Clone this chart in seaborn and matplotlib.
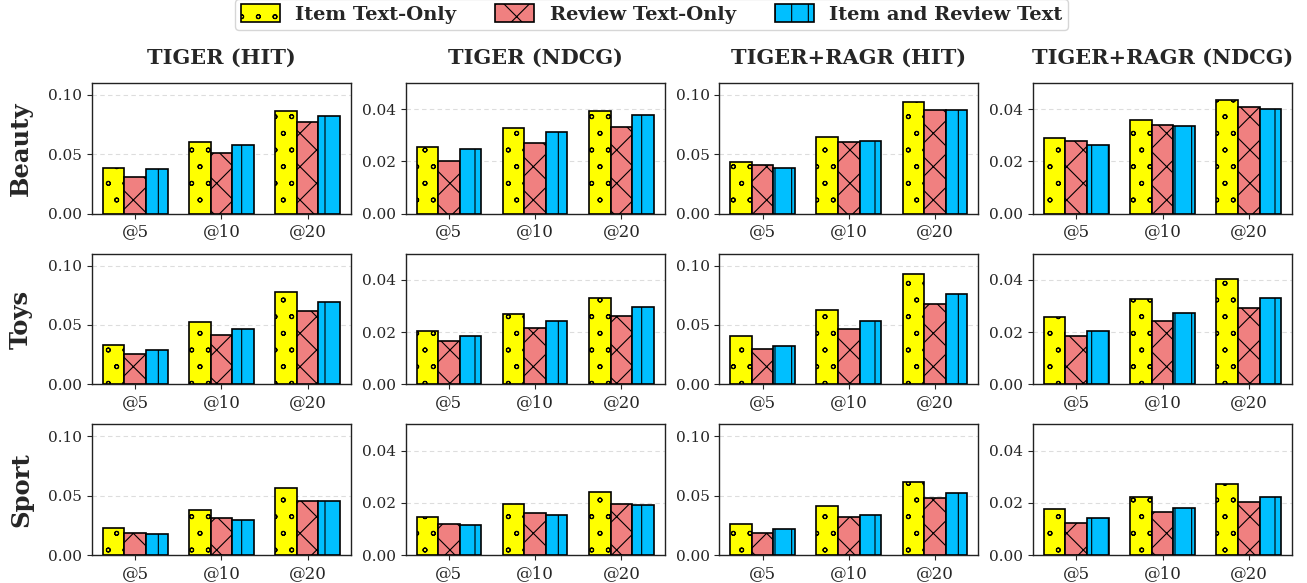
import matplotlib
matplotlib.use("Agg")
import matplotlib.pyplot as plt
import matplotlib.hatch as mhatch
from matplotlib.patches import Patch
import pandas as pd
import seaborn as sns

# Cutoffs on the x axis
cutoffs = ["@5", "@10", "@20"]

# Text-source settings compared in every panel
settings = ["Item Text-Only", "Review Text-Only", "Item and Review Text"]

# Panel columns (model + metric) and dataset rows
columns = ["TIGER (HIT)", "TIGER (NDCG)", "TIGER+RAGR (HIT)", "TIGER+RAGR (NDCG)"]
datasets = ["Beauty", "Toys", "Sport"]

# ---- Beauty ----
beauty_tiger_hit_item = [0.0382, 0.0604, 0.0868]
beauty_tiger_hit_review = [0.0309, 0.0514, 0.0770]
beauty_tiger_hit_both = [0.0374, 0.0581, 0.0823]

beauty_tiger_ndcg_item = [0.0254, 0.0326, 0.0392]
beauty_tiger_ndcg_review = [0.0203, 0.0269, 0.0332]
beauty_tiger_ndcg_both = [0.0249, 0.0314, 0.0377]

beauty_ragr_hit_item = [0.0433, 0.0646, 0.0941]
beauty_ragr_hit_review = [0.0407, 0.0601, 0.0876]
beauty_ragr_hit_both = [0.0388, 0.0610, 0.0876]

beauty_ragr_ndcg_item = [0.0291, 0.0360, 0.0435]
beauty_ragr_ndcg_review = [0.0276, 0.0340, 0.0408]
beauty_ragr_ndcg_both = [0.0262, 0.0335, 0.0401]

# ---- Toys ----
toys_tiger_hit_item = [0.0331, 0.0528, 0.0781]
toys_tiger_hit_review = [0.0258, 0.0419, 0.0615]
toys_tiger_hit_both = [0.0292, 0.0469, 0.0694]

toys_tiger_ndcg_item = [0.0206, 0.0269, 0.0331]
toys_tiger_ndcg_review = [0.0164, 0.0214, 0.0262]
toys_tiger_ndcg_both = [0.0185, 0.0241, 0.0297]

toys_ragr_hit_item = [0.0410, 0.0629, 0.0933]
toys_ragr_hit_review = [0.0295, 0.0469, 0.0674]
toys_ragr_hit_both = [0.0326, 0.0531, 0.0764]

toys_ragr_ndcg_item = [0.0259, 0.0327, 0.0404]
toys_ragr_ndcg_review = [0.0186, 0.0242, 0.0292]
toys_ragr_ndcg_both = [0.0205, 0.0273, 0.0329]

# ---- Sport ----
sport_tiger_hit_item = [0.0230, 0.0382, 0.0562]
sport_tiger_hit_review = [0.0188, 0.0315, 0.0455]
sport_tiger_hit_both = [0.0180, 0.0298, 0.0455]

sport_tiger_ndcg_item = [0.0146, 0.0196, 0.0241]
sport_tiger_ndcg_review = [0.0120, 0.0160, 0.0196]
sport_tiger_ndcg_both = [0.0115, 0.0153, 0.0192]

sport_ragr_hit_item = [0.0264, 0.0413, 0.0618]
sport_ragr_hit_review = [0.0188, 0.0317, 0.0478]
sport_ragr_hit_both = [0.0216, 0.0340, 0.0520]

sport_ragr_ndcg_item = [0.0175, 0.0223, 0.0273]
sport_ragr_ndcg_review = [0.0121, 0.0163, 0.0204]
sport_ragr_ndcg_both = [0.0140, 0.0180, 0.0224]

panels = [
    [
        (beauty_tiger_hit_item, beauty_tiger_hit_review, beauty_tiger_hit_both),
        (beauty_tiger_ndcg_item, beauty_tiger_ndcg_review, beauty_tiger_ndcg_both),
        (beauty_ragr_hit_item, beauty_ragr_hit_review, beauty_ragr_hit_both),
        (beauty_ragr_ndcg_item, beauty_ragr_ndcg_review, beauty_ragr_ndcg_both),
    ],
    [
        (toys_tiger_hit_item, toys_tiger_hit_review, toys_tiger_hit_both),
        (toys_tiger_ndcg_item, toys_tiger_ndcg_review, toys_tiger_ndcg_both),
        (toys_ragr_hit_item, toys_ragr_hit_review, toys_ragr_hit_both),
        (toys_ragr_ndcg_item, toys_ragr_ndcg_review, toys_ragr_ndcg_both),
    ],
    [
        (sport_tiger_hit_item, sport_tiger_hit_review, sport_tiger_hit_both),
        (sport_tiger_ndcg_item, sport_tiger_ndcg_review, sport_tiger_ndcg_both),
        (sport_ragr_hit_item, sport_ragr_hit_review, sport_ragr_hit_both),
        (sport_ragr_ndcg_item, sport_ragr_ndcg_review, sport_ragr_ndcg_both),
    ],
]

colors = ["#FFFF00", "#F08080", "#00BFFF"]
hatches = ["o", "x", "|"]

hit_ticks = [0.0, 0.05, 0.10]
ndcg_ticks = [0.0, 0.02, 0.04]

# smaller rings for the 'o' hatch
mhatch.SmallCircles.size = 0.12

sns.set_theme(style="ticks")
plt.rcParams["font.family"] = ["DejaVu Serif"]
plt.rcParams["hatch.linewidth"] = 0.8
plt.rcParams["axes.edgecolor"] = "#222222"
plt.rcParams["axes.linewidth"] = 1.0

fig, axes = plt.subplots(3, 4, figsize=(13.07, 5.83), dpi=100)
fig.subplots_adjust(left=0.0704, right=0.9885, top=0.8576, bottom=0.048,
                    wspace=0.212, hspace=0.308)

for r, row_name in enumerate(datasets):
    for c, col_name in enumerate(columns):
        ax = axes[r, c]
        series = panels[r][c]
        df = pd.DataFrame({
            "cutoff": cutoffs * 3,
            "value": list(series[0]) + list(series[1]) + list(series[2]),
            "setting": [s for s in settings for _ in cutoffs],
        })
        sns.barplot(data=df, x="cutoff", y="value", hue="setting",
                    hue_order=settings, order=cutoffs, palette=colors,
                    width=0.75, errorbar=None, edgecolor="black",
                    linewidth=1.2, saturation=1, legend=False, ax=ax)
        for cont, h in zip(ax.containers, hatches):
            for bar in cont:
                bar.set_hatch(h)
                bar.set_zorder(3)

        is_hit = "HIT" in col_name
        ticks = hit_ticks if is_hit else ndcg_ticks
        ax.set_ylim(0, 0.11 if is_hit else 0.05)
        ax.set_yticks(ticks)
        ax.set_yticklabels([f"{t:.2f}" for t in ticks])
        ax.yaxis.grid(True, linestyle=(0, (4, 3)), color="#dddddd", linewidth=0.8, zorder=0)
        ax.set_axisbelow(True)
        ax.tick_params(axis="y", labelsize=11, length=3.5, width=0.8)
        ax.tick_params(axis="x", labelsize=12, length=3.5, width=0.8)
        ax.set_xlabel("")
        ax.set_ylabel("")
        for sp in ax.spines.values():
            sp.set_visible(True)

        if r == 0:
            ax.set_title(col_name, fontsize=15, fontweight="bold", pad=13.5)
        if c == 0:
            ax.set_ylabel(row_name, fontsize=17.5, fontweight="bold", labelpad=11)

handles = [Patch(facecolor=col, edgecolor="black", hatch=h, linewidth=1.2, label=s)
           for s, col, h in zip(settings, colors, hatches)]
fig.legend(handles=handles, loc="upper center", bbox_to_anchor=(0.4985, 1.019), ncol=3,
           frameon=True, prop={"family": "DejaVu Serif", "weight": "bold", "size": 14},
           handlelength=2.0, handleheight=1.0, columnspacing=2.0, borderpad=0.3,
           edgecolor="#cccccc", fancybox=True)

fig.savefig("out.png", dpi=100)
